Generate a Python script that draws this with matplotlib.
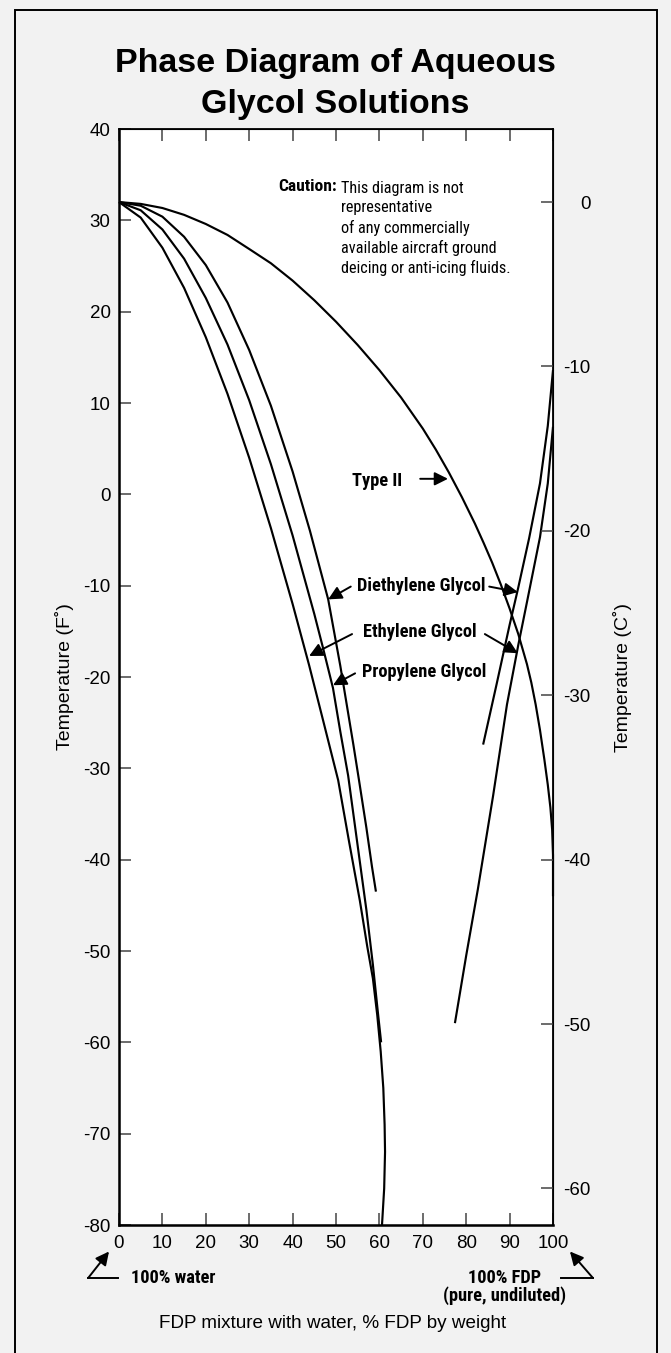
import matplotlib
matplotlib.use("Agg")
import matplotlib.pyplot as plt
from matplotlib import font_manager
from matplotlib.font_manager import FontProperties
from matplotlib.patches import Rectangle
from matplotlib.textpath import TextPath

# freezing point curves, % FDP by weight vs temperature (F)
type2_x = [0, 5, 10, 15, 20, 25, 30.2, 35, 40, 45, 50, 55, 60, 65, 70, 73, 76, 79, 82, 84, 86, 88,
           90, 92, 94, 95, 96, 97, 98, 98.8, 99.4, 99.8, 100, 100]
type2_t = [32, 31.8, 31.35, 30.6, 29.6, 28.4, 26.8, 25.3, 23.4, 21.25, 18.9, 16.35, 13.6, 10.6, 7.2, 4.9,
           2.4, -0.3, -3.2, -5.3, -7.5, -9.9, -12.5, -15.3, -18.6, -20.6, -23.0, -25.8, -29.0, -31.8,
           -34.3, -36.7, -39.5, -44]

dieth_x = [0, 5, 10, 15, 20, 25, 30, 35, 40, 44, 48.2, 51, 54, 55.3, 57, 58.3, 59.2]
dieth_t = [32, 31.6, 30.4, 28.2, 25.1, 21.0, 15.8, 9.7, 2.5, -4.0, -11.5, -18.8, -27.4, -31.3, -36.5, -40.8, -43.5]

prop_x = [0, 5, 10, 15, 20, 25, 30, 35, 40, 45, 47, 49.3, 51, 52.8, 55, 57, 58.5, 59.6, 60.4]
prop_t = [32, 31.1, 29.0, 25.8, 21.5, 16.4, 10.3, 3.3, -4.5, -13.1, -16.8, -21.2, -26, -30.8, -38.5, -45.5,
          -51.5, -56.5, -60]

eth_x = [0, 5, 10, 15, 20, 25, 30, 35, 40, 43.8, 47, 50.5, 53, 55.5, 57.2, 58.5, 59.5, 60.3, 60.9, 61.2,
         61.3, 61.1, 60.6]
eth_t = [32, 30.3, 27.0, 22.6, 17.2, 11.0, 4.0, -3.7, -12.0, -18.7, -24.7, -31.3, -38, -44.5, -49.5, -53,
         -57, -61, -65, -69, -72, -76, -80]

# lines starting from the pure glycol side
dieth_pure_x = [83.9, 87, 90, 92, 94.5, 97, 98.8, 100]
dieth_pure_t = [-27.4, -20.8, -14.3, -10.2, -4.8, 1.2, 7.5, 13.6]
eth_pure_x = [77.4, 80, 82.7, 86.2, 89.4, 92, 94, 97, 98.8, 100]
eth_pure_t = [-57.9, -50.5, -43.2, -33.0, -23.0, -16.5, -11.8, -4.7, 1.2, 7.4]

f_ticks = [40, 30, 20, 10, 0, -10, -20, -30, -40, -50, -60, -70, -80]
c_ticks = [0, -10, -20, -30, -40, -50, -60]
x_ticks = [0, 10, 20, 30, 40, 50, 60, 70, 80, 90, 100]

plt.rcParams["font.family"] = ["Liberation Sans", "DejaVu Sans"]
plt.rcParams["axes.unicode_minus"] = False


def narrow_font(bold):
    # prefer an Arial-Narrow-like face, else plain Liberation Sans
    wanted = ["liberation sans narrow", "arial narrow", "roboto condensed", "noto sans", "open sans"]
    best = None
    for f in font_manager.fontManager.ttflist:
        nm = f.name.lower()
        cond = "narrow" in nm or "condensed" in nm or f.stretch in ("condensed", "semi-condensed")
        if not cond or f.style != "normal":
            continue
        w = f.weight if isinstance(f.weight, int) else (700 if f.weight == "bold" else 400)
        if (w >= 600) != bold or (bold and w > 750) or (not bold and w < 350):
            continue
        for rank, key in enumerate(wanted):
            if nm.startswith(key) and (best is None or rank < best[0]):
                best = (rank, f.fname)
    if best:
        return FontProperties(fname=best[1])
    return FontProperties(family="Liberation Sans", weight="bold" if bold else "normal")


def fit_size(fp, text, width_px):
    w = TextPath((0, 0), text, size=10, prop=fp).get_extents().width * 100 / 72
    return 10 * width_px / w


reg = narrow_font(False)
bold = narrow_font(True)
reg.set_size(fit_size(reg, "This diagram is not", 122))
bold.set_size(fit_size(bold, "Diethylene Glycol", 126))
cau = bold.copy()
cau.set_size(fit_size(cau, "Caution:", 57))

W, H = 671, 1353
fig = plt.figure(figsize=(W / 100, H / 100), dpi=100, facecolor="#f2f2f2")
fig.patches.append(Rectangle((15 / W, -0.01), (657 - 15) / W, 1.01 - 10 / H,
                             transform=fig.transFigure, fill=False, ec="black", lw=1.4))

ax = fig.add_axes([119 / W, 1 - 1225 / H, (553 - 119) / W, (1225 - 129) / H])
ax.set_facecolor("white")
ax.set_xlim(0, 100)
ax.set_ylim(-80, 40)

for xs, ts in [(type2_x, type2_t), (dieth_x, dieth_t), (prop_x, prop_t), (eth_x, eth_t),
               (dieth_pure_x, dieth_pure_t), (eth_pure_x, eth_pure_t)]:
    ax.plot(xs, ts, color="black", lw=1.55, solid_capstyle="butt", solid_joinstyle="round", clip_on=False)

ax.set_xticks(x_ticks)
ax.set_yticks(f_ticks)
ax.tick_params(axis="both", direction="in", length=8.5, width=1.1, color="#444444",
               labelsize=13.5, top=True)
ax.tick_params(axis="y", pad=6)
ax.tick_params(axis="x", pad=7)
for side in ["left", "bottom"]:
    ax.spines[side].set_linewidth(1.8)
for side in ["top", "right"]:
    ax.spines[side].set_linewidth(1.3)
ax.set_ylabel("Temperature (F˚)", fontsize=14)
ax.yaxis.set_label_coords(-0.103, 0.5)

ax2 = ax.twinx()
ax2.set_ylim((-80 - 32) * 5 / 9, (40 - 32) * 5 / 9)
ax2.set_yticks(c_ticks)
ax2.tick_params(axis="y", direction="in", length=8.5, width=1.1, color="#444444",
                labelsize=13.5, pad=27)
for lab in ax2.get_yticklabels():
    lab.set_horizontalalignment("right")
ax2.set_ylabel("Temperature (C˚)", fontsize=14)
ax2.yaxis.set_label_coords(1.139, 0.5)

fig.text(0.5, 1 - 84 / H, "Phase Diagram of Aqueous\nGlycol Solutions", ha="center", va="center",
         fontsize=24.5, fontweight="bold", linespacing=1.43)

# caution note
ax.text(50.3, 33.7, "Caution:", ha="right", va="center", fontproperties=cau)
ax.text(51.2, 34.3, "This diagram is not\nrepresentative\nof any commercially\navailable aircraft ground\n"
        "deicing or anti-icing fluids.", ha="left", va="top", fontproperties=reg,
        linespacing=20 / (reg.get_size() * 100 / 72 * 0.92))

arrow = dict(arrowstyle="-|>", color="black", lw=1.4, mutation_scale=20, shrinkA=0, shrinkB=0)

ax.text(65.3, 1.5, "Type II", ha="right", va="center", fontproperties=bold)
ax.annotate("", xy=(75.8, 1.7), xytext=(69.4, 1.7), arrowprops=arrow)

ax.text(54.9, -10.0, "Diethylene Glycol", ha="left", va="center", fontproperties=bold)
ax.annotate("", xy=(48.2, -11.5), xytext=(53.4, -10.1), arrowprops=arrow)
ax.annotate("", xy=(91.9, -10.7), xytext=(85.3, -10.1), arrowprops=arrow)

ax.text(56.2, -15.1, "Ethylene Glycol", ha="left", va="center", fontproperties=bold)
ax.annotate("", xy=(43.8, -17.7), xytext=(53.7, -15.3), arrowprops=arrow)
ax.annotate("", xy=(91.9, -17.4), xytext=(84.3, -15.3), arrowprops=arrow)

ax.text(56.0, -19.4, "Propylene Glycol", ha="left", va="center", fontproperties=bold)
ax.annotate("", xy=(49.3, -20.9), xytext=(54.4, -19.6), arrowprops=arrow)

# end-point notes below the axis
ax.plot([-0.2, -7.1], [-85.8, -85.8], color="black", lw=1.4, clip_on=False)
ax.annotate("", xy=(-2.3, -82.9), xytext=(-7.1, -85.8), arrowprops=arrow, annotation_clip=False)
ax.text(2.8, -85.8, "100% water", ha="left", va="center", fontproperties=bold, clip_on=False)
ax.plot([101.8, 109.2], [-85.8, -85.8], color="black", lw=1.4, clip_on=False)
ax.annotate("", xy=(103.9, -82.9), xytext=(109.2, -85.8), arrowprops=arrow, annotation_clip=False)
ax.text(88.9, -85.8, "100% FDP", ha="center", va="center", fontproperties=bold, clip_on=False)
ax.text(88.9, -87.7, "(pure, undiluted)", ha="center", va="center", fontproperties=bold, clip_on=False)

ax.text(49.1, -90.8, "FDP mixture with water, % FDP by weight", ha="center", va="center",
        fontsize=13.6, clip_on=False)

fig.savefig("out.png", dpi=100, facecolor=fig.get_facecolor())
